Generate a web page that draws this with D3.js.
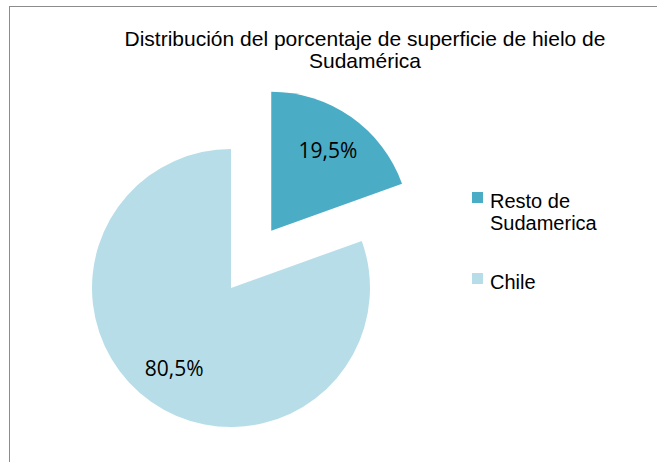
<!DOCTYPE html>
<html>
<head>
<meta charset="utf-8">
<script src="https://cdn.jsdelivr.net/npm/d3@7"></script>
<style>
	body { margin: 0; background: #fff; }
	svg { display: block; }
</style>
</head>
<body>
<div id="chart"></div>
<script>
const categories = ["Resto de Sudamerica", "Chile"];
const values = [19.5, 80.5];
const valueLabels = ["19,5%", "80,5%"];
const legendLines = [["Resto de", "Sudamerica"], ["Chile"]];
const titleLines = ["Distribución del porcentaje de superficie de hielo de", "Sudamérica"];

const width = 657, height = 462;
const colors = d3.scaleOrdinal().domain(categories).range(["#4BACC6", "#B7DEE8"]);

const svg = d3.select("#chart").append("svg")
	.attr("width", width)
	.attr("height", height);

// chart frame (right/bottom edges run off the picture)
svg.append("rect")
	.attr("x", 9.5)
	.attr("y", 6.5)
	.attr("width", 700)
	.attr("height", 500)
	.attr("fill", "#fff")
	.attr("stroke", "#8c8c8c")
	.attr("stroke-width", 1);

svg.append("g")
	.selectAll("text")
	.data(titleLines)
	.enter().append("text")
	.attr("x", 365)
	.attr("y", (d, i) => 46 + i * 22)
	.attr("text-anchor", "middle")
	.attr("font-family", "Liberation Sans, Arial, sans-serif")
	.attr("font-size", "21px")
	.attr("fill", "#000")
	.text(d => d);

const radius = 139;
const cx = 231, cy = 288;
const explode = 70;

const pie = d3.pie().sort(null).value(d => d.value);
const arc = d3.arc().innerRadius(0).outerRadius(radius);

const slices = pie(categories.map((c, i) => ({key: c, value: values[i], label: valueLabels[i]})));

const g = svg.append("g")
	.attr("transform", "translate(" + cx + "," + cy + ")");

const sliceG = g.selectAll(".slice")
	.data(slices)
	.enter().append("g")
	.attr("class", "slice")
	.attr("transform", function(d, i) {
		if (i !== 0) return null;
		const a = (d.startAngle + d.endAngle) / 2;
		return "translate(" + (Math.sin(a) * explode) + "," + (-Math.cos(a) * explode) + ")";
	});

sliceG.append("path")
	.attr("d", arc)
	.attr("fill", d => colors(d.data.key));

const labelArc = d3.arc().innerRadius(radius * 0.71).outerRadius(radius * 0.71);
sliceG.append("text")
	.attr("transform", function(d) {
		const p = labelArc.centroid(d);
		return "translate(" + p[0] + "," + p[1] + ")";
	})
	.attr("text-anchor", "middle")
	.attr("dy", "0.36em")
	.attr("font-family", "Open Sans, sans-serif")
	.attr("font-size", "21px")
	.attr("fill", "#000")
	.text(d => d.data.label);

// legend
const legend = svg.append("g")
	.selectAll("g")
	.data(categories)
	.enter().append("g")
	.attr("transform", (d, i) => "translate(472," + (i === 0 ? 192 : 273) + ")");

legend.append("rect")
	.attr("width", 11)
	.attr("height", 11)
	.attr("fill", d => colors(d));

legend.each(function(d, i) {
	d3.select(this).selectAll("text")
		.data(legendLines[i])
		.enter().append("text")
		.attr("x", 18)
		.attr("y", (t, j) => 15.5 + j * 22.5)
		.attr("font-family", "Liberation Sans, Arial, sans-serif")
		.attr("font-size", "20px")
		.attr("fill", "#000")
		.text(t => t);
});
</script>
</body>
</html>
